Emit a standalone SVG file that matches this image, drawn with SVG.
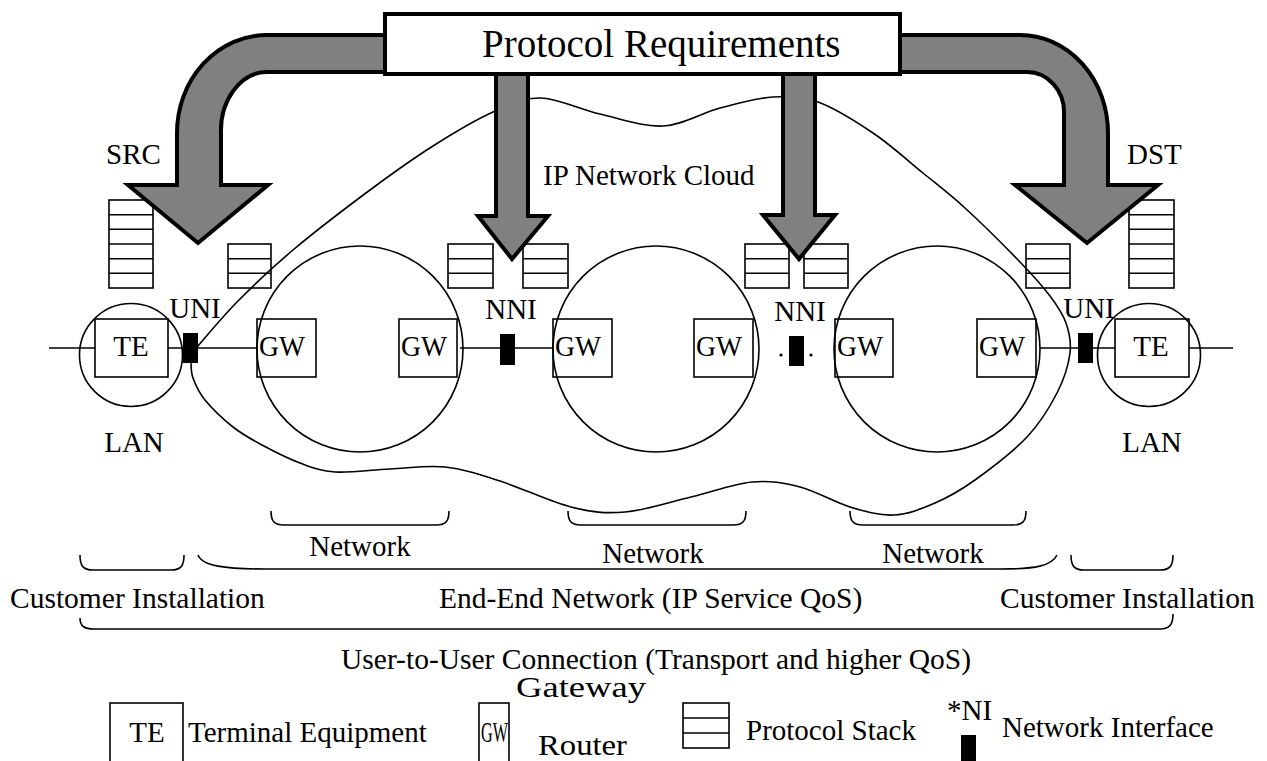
<svg xmlns="http://www.w3.org/2000/svg" width="1267" height="761" viewBox="0 0 1267 761">
<defs>
<style>
text{font-family:"Liberation Serif","Times New Roman",serif;font-size:29px;fill:#000}
.ln{fill:none;stroke:#000;stroke-width:1.6}
.box{fill:none;stroke:#000;stroke-width:1.6}
.stk{fill:none;stroke:#000;stroke-width:1.6}
.blk{fill:#000}
.arr{fill:#808080;stroke:#000;stroke-width:4;stroke-linejoin:miter}
.mid{text-anchor:middle}
.big{font-size:29.5px}
</style>
</defs>
<rect width="1267" height="761" fill="#fff"/>

<g id="connectors">
<path class="ln" d="M49,348H95M168,348H183M198,348H257M460,348H500M515,348H553M1040,348H1078M1093,348H1115M1189,348H1233"/>
</g>

<g id="cloud">
<path class="ln" d="M197,347 C203.8,339.3 222,317.2 238,301 C254,284.8 271,268.5 293,250 C315,231.5 346.7,207.3 370,190 C393.3,172.7 412.5,159 433,146 C453.5,133 475.2,120 493,112 C510.8,104 522.2,97.7 540,98 C557.8,98.3 579.5,109.3 600,114 C620.5,118.7 643,127 663,126 C683,125 701.7,112.8 720,108 C738.3,103.2 756.7,98 773,97 C789.3,96 801.3,96 818,102 C834.7,108 855.5,121.2 873,133 C890.5,144.8 907.7,160.5 923,173 C938.3,185.5 948.8,193.2 965,208 C981.2,222.8 1005.8,247.3 1020,262 C1034.2,276.7 1042.3,285.8 1050,296 C1057.7,306.2 1062.7,313.5 1066,323 C1069.3,332.5 1071.5,341.3 1070,353 C1068.5,364.7 1064.2,379 1057,393 C1049.8,407 1040.7,422.5 1027,437 C1013.3,451.5 990.3,469 975,480 C959.7,491 948.5,497.2 935,503 C921.5,508.8 908.2,514.3 894,515 C879.8,515.7 865.7,511.7 850,507 C834.3,502.3 816.3,491.2 800,487 C783.7,482.8 770.2,480.3 752,482 C733.8,483.7 712.2,492 691,497 C669.8,502 645,510.3 625,512 C605,513.7 591.8,512.2 571,507 C550.2,501.8 521,487.7 500,481 C479,474.3 463.3,469 445,467 C426.7,465 408.3,468.2 390,469 C371.7,469.8 350,473 335,472 C320,471 312.2,467.5 300,463 C287.8,458.5 273.2,451 262,445 C250.8,439 242.5,434.5 233,427 C223.5,419.5 211.7,408.2 205,400 C198.3,391.8 195.3,384.2 193,378 C190.7,371.8 191.3,365.5 191,363"/>
</g>

<g id="lan-left">
<circle class="ln" cx="131" cy="355" r="51.5"/>
<rect class="box" x="95" y="319" width="73" height="58"/>
<text class="mid" x="131" y="356">TE</text>
<text class="mid" x="134" y="452">LAN</text>
</g>
<g id="lan-right">
<circle class="ln" cx="1149" cy="355" r="51.5"/>
<rect class="box" x="1115" y="319" width="74" height="58"/>
<text class="mid" x="1151" y="356">TE</text>
<text class="mid" x="1152" y="452">LAN</text>
</g>

<g id="net1">
<circle class="ln" cx="360" cy="349" r="103"/>
<rect class="box" x="257" y="319" width="59" height="58"/>
<text x="259" y="356" textLength="46" lengthAdjust="spacingAndGlyphs">GW</text>
<rect class="box" x="399" y="319" width="58" height="58"/>
<text x="401" y="356" textLength="46" lengthAdjust="spacingAndGlyphs">GW</text>
</g>
<g id="net2">
<circle class="ln" cx="656" cy="349" r="103"/>
<rect class="box" x="553" y="319" width="59" height="58"/>
<text x="555" y="356" textLength="46" lengthAdjust="spacingAndGlyphs">GW</text>
<rect class="box" x="694" y="319" width="59" height="58"/>
<text x="696" y="356" textLength="46" lengthAdjust="spacingAndGlyphs">GW</text>
</g>
<g id="net3">
<circle class="ln" cx="937" cy="349" r="103"/>
<rect class="box" x="835" y="319" width="58" height="58"/>
<text x="837" y="356" textLength="46" lengthAdjust="spacingAndGlyphs">GW</text>
<rect class="box" x="977" y="319" width="59" height="58"/>
<text x="979" y="356" textLength="46" lengthAdjust="spacingAndGlyphs">GW</text>
</g>

<g id="uni-left">
<rect class="blk" x="183" y="333" width="15" height="30"/>
<text class="mid" x="195" y="318">UNI</text>
</g>
<g id="nni-1">
<rect class="blk" x="500" y="334" width="15" height="31"/>
<text class="mid" x="511" y="319">NNI</text>
</g>
<g id="nni-2">
<rect class="blk" x="789" y="336" width="15" height="30"/>
<circle class="blk" cx="781" cy="355" r="1.6"/>
<circle class="blk" cx="811" cy="355" r="1.6"/>
<text class="mid" x="800" y="321">NNI</text>
</g>
<g id="uni-right">
<rect class="blk" x="1078" y="333" width="15" height="30"/>
<text class="mid" x="1089" y="318">UNI</text>
</g>

<g id="stacks">
<g id="stack-src">
<rect class="stk" x="109" y="200" width="44" height="88"/>
<path class="stk" d="M109,214.7H153M109,229.3H153M109,244H153M109,258.7H153M109,273.3H153"/>
</g>
<g id="stack-dst">
<rect class="stk" x="1129" y="200" width="45" height="88"/>
<path class="stk" d="M1129,214.7H1174M1129,229.3H1174M1129,244H1174M1129,258.7H1174M1129,273.3H1174"/>
</g>
<g id="stack-1"><rect class="stk" x="228" y="244" width="43" height="44"/><path class="stk" d="M228,258.7H271M228,273.3H271"/></g>
<g id="stack-2"><rect class="stk" x="448" y="244" width="45" height="44"/><path class="stk" d="M448,258.7H493M448,273.3H493"/></g>
<g id="stack-3"><rect class="stk" x="523" y="244" width="45" height="44"/><path class="stk" d="M523,258.7H568M523,273.3H568"/></g>
<g id="stack-4"><rect class="stk" x="745" y="244" width="44" height="44"/><path class="stk" d="M745,258.7H789M745,273.3H789"/></g>
<g id="stack-5"><rect class="stk" x="804" y="244" width="44" height="44"/><path class="stk" d="M804,258.7H848M804,273.3H848"/></g>
<g id="stack-6"><rect class="stk" x="1026" y="244" width="44" height="44"/><path class="stk" d="M1026,258.7H1070M1026,273.3H1070"/></g>
</g>

<g id="arrows">
<path class="arr" d="M390,35 H267 A90,98 0 0 0 177,133 V185 H128 L198,243 L268,185 H221 V134 A46,59 0 0 1 267,72 H390 Z"/>
<path class="arr" d="M895,35 H1020 A88,98 0 0 1 1108,133 V185 H1158 L1087,243 L1015,185 H1064 V113 A37,40 0 0 0 1027,72 H895 Z"/>
<path class="arr" d="M496,70 V216 H478 L512,259 L548,216 H528 V70 Z"/>
<path class="arr" d="M783,70 V215 H763 L799,259 L835,215 H815 V70 Z"/>
</g>

<g id="protocol-requirements">
<rect x="385" y="14" width="515" height="60" fill="#fff" stroke="#000" stroke-width="4"/>
<text x="482" y="57" style="font-size:39px">Protocol Requirements</text>
</g>

<g id="labels">
<text x="106" y="164">SRC</text>
<text x="1127" y="164">DST</text>
<text x="543" y="185">IP Network Cloud</text>
</g>

<g id="braces">
<path class="ln" d="M271,511 C271,521 274,525 284,525 H436 C446,525 449,521 449,511"/>
<path class="ln" d="M568,511 C568,521 571,525 581,525 H733 C743,525 746,521 746,511"/>
<path class="ln" d="M850,511 C850,521 853,525 863,525 H1013 C1023,525 1026,521 1026,511"/>
<path class="ln" d="M80,555 C80,566 83,570 93,570 H171 C181,570 184,566 184,555"/>
<path class="ln" d="M198,555 C202,566 225,569 265,569 H1000 C1035,569 1052,566 1057,555"/>
<path class="ln" d="M1071,555 C1071,566 1074,570 1084,570 H1160 C1170,570 1173,566 1173,555"/>
<path class="ln" d="M80,618 C80,626 84,629 94,629 H1160 C1170,629 1173,624 1173,614"/>
</g>

<g id="brace-labels">
<text class="mid" x="360" y="556">Network</text>
<text class="mid" x="653" y="563">Network</text>
<text class="mid" x="933" y="563">Network</text>
<text class="big" x="10" y="608">Customer Installation</text>
<text class="big" x="439" y="608">End-End Network (IP Service QoS)</text>
<text class="big" x="1000" y="608">Customer Installation</text>
<text class="big" x="341" y="669">User-to-User Connection (Transport and higher QoS)</text>
</g>

<g id="legend">
<g id="legend-te">
<rect class="box" x="110" y="703" width="73" height="70"/>
<text class="mid" x="147" y="742">TE</text>
<text x="188" y="742">Terminal Equipment</text>
</g>
<g id="legend-gw">
<rect class="box" x="479" y="703" width="30" height="70"/>
<text x="481" y="742" textLength="27" lengthAdjust="spacingAndGlyphs">GW</text>
<text x="516" y="697" style="font-size:30px" textLength="130" lengthAdjust="spacingAndGlyphs">Gateway</text>
<text x="538" y="755" style="font-size:30px" textLength="89" lengthAdjust="spacingAndGlyphs">Router</text>
</g>
<g id="legend-stack">
<rect class="stk" x="683" y="703" width="46" height="45"/>
<path class="stk" d="M683,718H729M683,733H729"/>
<text x="746" y="740">Protocol Stack</text>
</g>
<g id="legend-ni">
<text x="947" y="720">*NI</text>
<rect class="blk" x="961" y="735" width="15" height="30"/>
<text x="1002" y="737">Network Interface</text>
</g>
</g>
</svg>
